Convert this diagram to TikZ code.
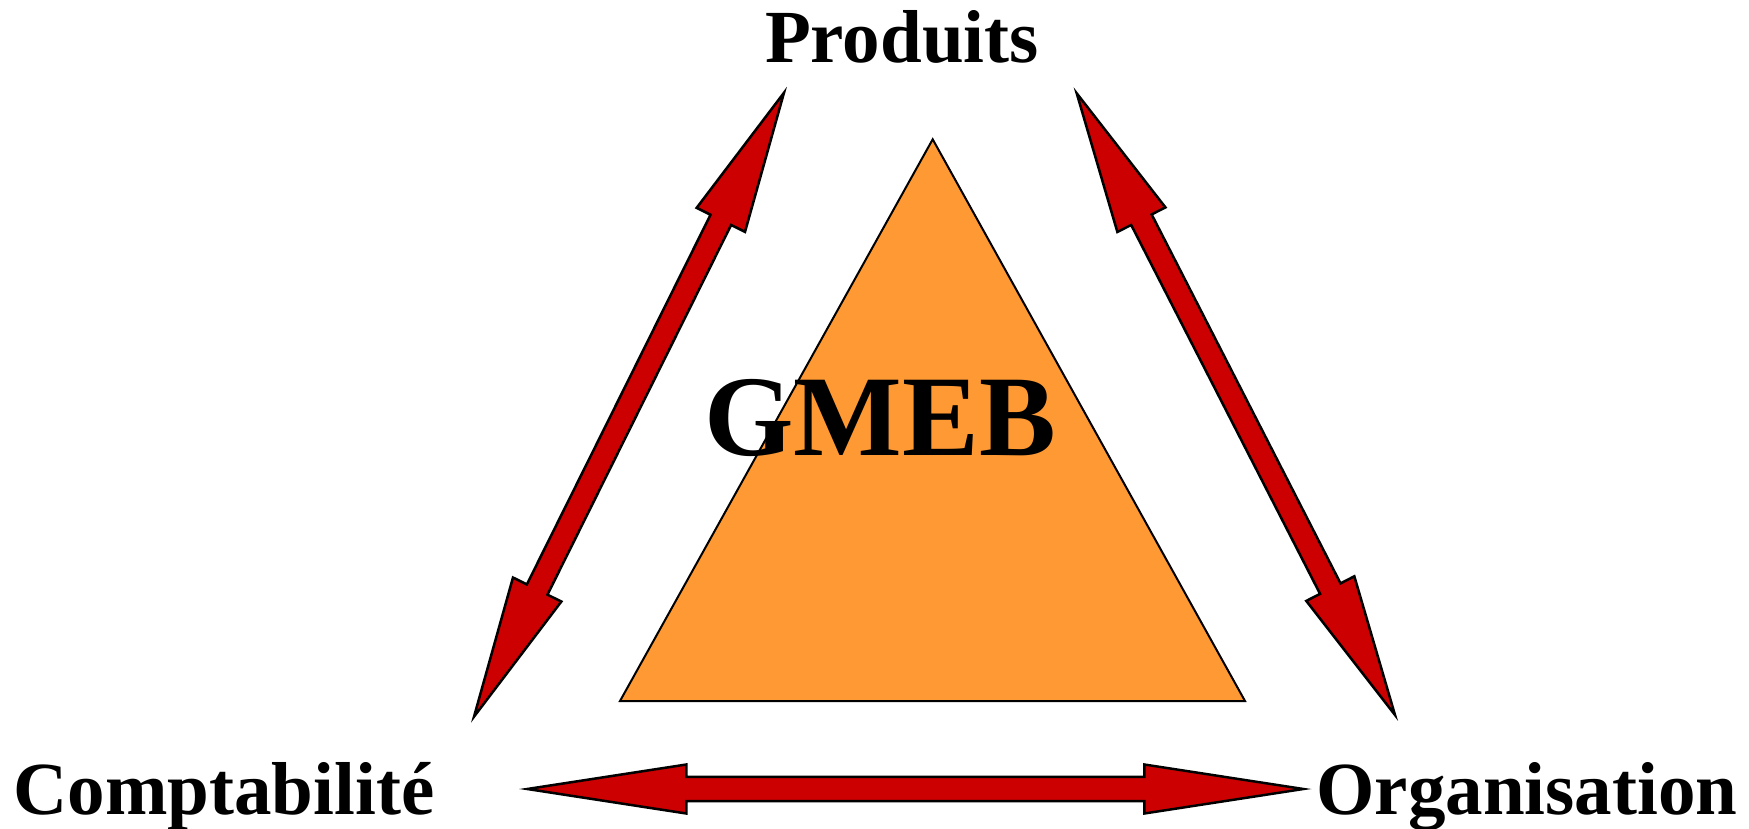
\documentclass[tikz,border=0pt]{standalone}
\usepackage{fontspec}
\setmainfont{Liberation Serif}
\usetikzlibrary{calc}

\definecolor{gmeborange}{RGB}{255,153,51}
\definecolor{arrowred}{RGB}{204,0,0}

% block arrow with two heads: #1,#2 end points, #3 head length, #4 head half width, #5 shaft half width
\newcommand{\fatarrow}[5]{%
  \draw[fatarrow] (#1)
    -- ($(#1)!#3!(#2)!#4!90:(#2)$)
    -- ($(#1)!#3!(#2)!#5!90:(#2)$)
    -- ($(#2)!#3!(#1)!#5!-90:(#1)$)
    -- ($(#2)!#3!(#1)!#4!-90:(#1)$)
    -- (#2)
    -- ($(#2)!#3!(#1)!#4!90:(#1)$)
    -- ($(#2)!#3!(#1)!#5!90:(#1)$)
    -- ($(#1)!#3!(#2)!#5!-90:(#2)$)
    -- ($(#1)!#3!(#2)!#4!-90:(#2)$)
    -- cycle;}

\begin{document}
\begin{tikzpicture}[
    x=1pt, y=-1pt,
    label/.style={anchor=base, inner sep=0pt, font=\fontsize{75}{75}\selectfont\bfseries},
    centre/.style={anchor=base, inner sep=0pt, font=\fontsize{115}{115}\selectfont\bfseries},
    fatarrow/.style={fill=arrowred, draw=black, line width=2.5pt, line join=miter},
    triangle/.style={fill=gmeborange, draw=black, line width=2pt, line join=miter}
]
\useasboundingbox (0,0) rectangle (1749,829);

% Triangle
\coordinate (apex) at (932.7,139.3);
\coordinate (baseL) at (620,701);
\coordinate (baseR) at (1245,701);
\draw[triangle] (apex) -- (baseL) -- (baseR) -- cycle;

% Labels
\node[label] (produits) at (902,63) {Produits};
\node[label] (compta) at (224,814) {Comptabilité};
\node[label] (orga) at (1527,814) {Organisation};

% Arrow ends
\coordinate (prodL) at (784,92.7);
\coordinate (comptaT) at (474,716.7);
\coordinate (prodR) at (1076.7,93.3);
\coordinate (orgaT) at (1395,715);
\coordinate (comptaR) at (527.3,789);
\coordinate (orgaL) at (1303.3,789);

% Double arrows
\fatarrow{prodL}{comptaT}{142pt}{27pt}{11.5pt}
\fatarrow{prodR}{orgaT}{142pt}{27pt}{11.5pt}
\fatarrow{comptaR}{orgaL}{159pt}{24.5pt}{12.2pt}

% Centre text
\node[centre] (gmeb) at (880,455) {GMEB};

\end{tikzpicture}
\end{document}
